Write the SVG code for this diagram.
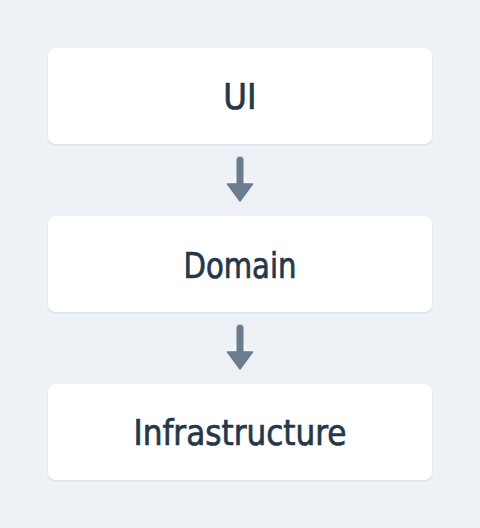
<svg xmlns="http://www.w3.org/2000/svg" width="480" height="528" viewBox="0 0 480 528">
  <defs>
    <filter id="sh" x="-5%" y="-10%" width="110%" height="125%">
      <feDropShadow dx="0" dy="1" stdDeviation="1" flood-color="#94a3b8" flood-opacity="0.3"/>
    </filter>
  </defs>
  <style>
    .box { fill: #ffffff; filter: url(#sh); }
    .lbl { font-family: "DejaVu Sans Condensed", "DejaVu Sans", sans-serif; font-stretch: condensed; font-size: 36px; fill: #263848; stroke: #263848; stroke-width: 0.7; text-anchor: middle; }
    .conn { stroke: #6b7c8e; stroke-width: 7; stroke-linecap: round; fill: none; }
    .head { fill: #6b7c8e; stroke: #6b7c8e; stroke-width: 1.5; stroke-linejoin: round; }
  </style>
  <rect width="480" height="528" fill="#eef2f6"/>
  <g id="connectors">
    <line class="conn" x1="240" y1="160" x2="240" y2="186"/>
    <path class="head" d="M227.5 184 L252.5 184 L240 201 Z"/>
    <line class="conn" x1="240" y1="328" x2="240" y2="354"/>
    <path class="head" d="M227.5 352 L252.5 352 L240 369 Z"/>
  </g>
  <g id="ui">
    <rect class="box" x="48" y="48" width="384" height="96" rx="8"/>
    <text class="lbl" x="240" y="109">UI</text>
  </g>
  <g id="domain">
    <rect class="box" x="48" y="216" width="384" height="96" rx="8"/>
    <text class="lbl" x="240" y="278" textLength="113" lengthAdjust="spacingAndGlyphs">Domain</text>
  </g>
  <g id="infrastructure">
    <rect class="box" x="48" y="384" width="384" height="96" rx="8"/>
    <text class="lbl" x="240" y="445" textLength="213" lengthAdjust="spacingAndGlyphs">Infrastructure</text>
  </g>
</svg>
